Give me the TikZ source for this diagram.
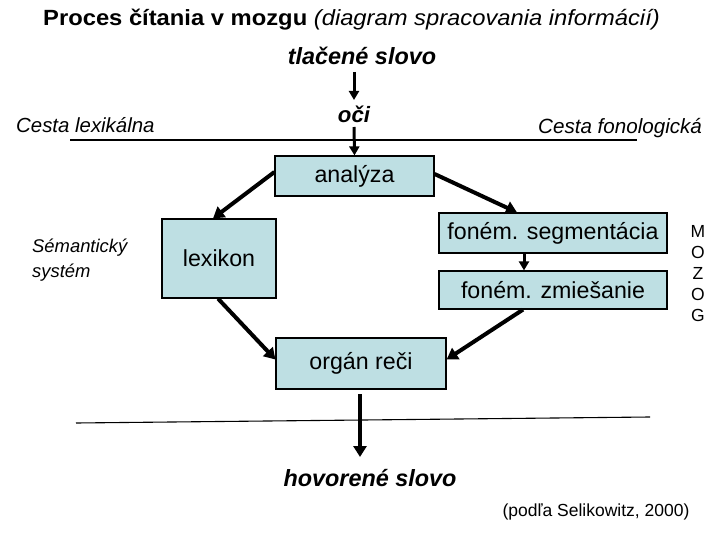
\documentclass[tikz,border=0pt]{standalone}
\usepackage{fontspec}
\usepackage{graphicx}
\setmainfont{Liberation Sans}
\usetikzlibrary{arrows.meta,calc}
\definecolor{boxblue}{RGB}{190,223,227}
\newcommand{\sx}[1]{\scalebox{1.08}[1]{#1}}
\newcommand{\fs}[1]{\fontsize{#1}{#1}\selectfont}
\tikzset{
  box/.style={draw=black, line width=1.2pt, fill=boxblue, inner sep=0pt, font=\fs{23.2}},
  txt/.style={inner sep=0pt, text=black},
  arr/.style={line width=4pt, -{Triangle[width=13pt,length=11pt]}},
  sarr/.style={line width=3pt, -{Triangle[width=10pt,length=9pt]}},
  rule/.style={line width=1.1pt}
}
\begin{document}
\begin{tikzpicture}[x=1pt,y=-1pt]
\useasboundingbox (0,0) rectangle (720,540);
% texts
\node[txt, anchor=base west] (title) at (43,26) {\sx{\fs{22}\bfseries Proces čítania v mozgu \mdseries\itshape (diagram spracovania informácií)}};
\node[txt, anchor=base] (tl) at (362,65) {\fs{23.4}\bfseries\itshape tlačené slovo};
\node[txt, anchor=base] (oci) at (354,123) {\fs{22.2}\bfseries\itshape oči};
\node[txt, anchor=base west] (lexpath) at (16,133) {\fs{20.4}\itshape Cesta lexikálna};
\node[txt, anchor=base west] (fonpath) at (538,134) {\fs{20.6}\itshape Cesta fonologická};
\node[txt, anchor=base west] (sem1) at (32,252) {\fs{18.4}\itshape Sémantický};
\node[txt, anchor=base west] (sem2) at (32,277) {\fs{18.4}\itshape systém};
\node[txt, anchor=base] (hov) at (370,486) {\fs{23.4}\bfseries\itshape hovorené slovo};
\node[txt] (src) at (596,512) {\fs{17.5}(podľa Selikowitz, 2000)};
\foreach \ch [count=\i] in {M,O,Z,O,G}
  \node[txt, font=\fs{17.5}] (mz\i) at (698,{210+21*\i}) {\ch};
% lines
\draw[rule] (70,140) -- (637,140);
\draw[rule] (76,423) -- (650,417);
% boxes
\node[box, minimum width=159pt, minimum height=40pt] (ana) at (354.5,176) {analýza};
\node[box, minimum width=114pt, minimum height=79pt] (lex) at (219,258.5) {lexikon};
\node[box, minimum width=228pt, minimum height=40pt] (seg) at (553,233) {foném. segmentácia};
\node[box, minimum width=228pt, minimum height=38pt] (zm) at (553,290) {foném. zmiešanie};
\node[box, minimum width=170pt, minimum height=51pt] (org) at (361,363.5) {orgán reči};
% connector ends
\coordinate (c1) at (354,72);
\coordinate (c2) at (354,100);
\coordinate (c3) at (354,127);
\coordinate (c4) at (360,394);
\coordinate (c5) at (360,457);
% connectors
\draw[sarr] (c1) -- (c2);
\draw[sarr] (c3) -- (ana.north);
\draw[arr] ([yshift=4pt]ana.west) -- ([xshift=-6pt]lex.north);
\draw[arr] ([yshift=2pt]ana.east) -- ([xshift=-36pt]seg.north);
\draw[sarr] ([xshift=-29pt]seg.south) -- ([xshift=-29pt]zm.north);
\draw[arr] ([xshift=-30pt]zm.south) -- ([yshift=4pt]org.east);
\draw[arr] ([xshift=-1pt]lex.south) -- ([yshift=4pt]org.west);
\draw[arr] (c4) -- (c5);
\end{tikzpicture}
\end{document}
